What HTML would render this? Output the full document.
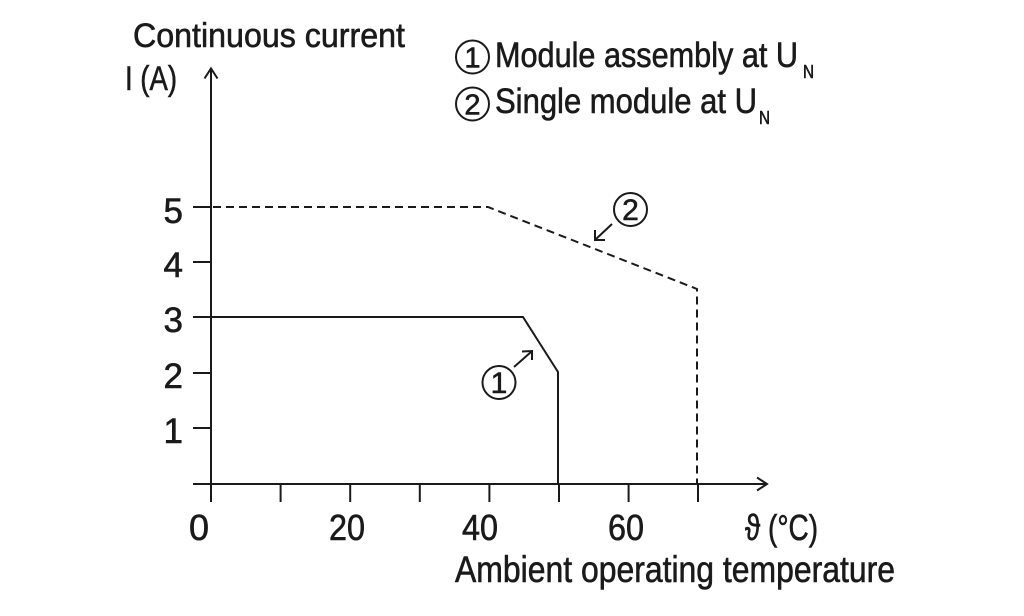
<!DOCTYPE html>
<html>
<head>
<meta charset="utf-8">
<style>
  html, body { margin:0; padding:0; background:#ffffff; }
  body { width:1024px; height:616px; overflow:hidden; }
  svg { display:block; }
  text { font-family: "Liberation Sans", "DejaVu Sans", sans-serif; fill:#1a1a1a; stroke:#1a1a1a; stroke-width:0.6; }
</style>
</head>
<body>
<svg width="1024" height="616" viewBox="0 0 1024 616" xmlns="http://www.w3.org/2000/svg">
  <rect width="1024" height="616" fill="#ffffff"/>

  <!-- Axis titles -->
  <text x="133" y="47" font-size="34" textLength="272" lengthAdjust="spacingAndGlyphs">Continuous current</text>
  <text x="125" y="90" font-size="34" textLength="52" lengthAdjust="spacingAndGlyphs">I (A)</text>

  <!-- Legend -->
  <circle cx="472.5" cy="57" r="16.5" fill="none" stroke="#1a1a1a" stroke-width="2"/>
  <text x="472.5" y="67.5" font-size="29" text-anchor="middle">1</text>
  <text x="495" y="67" font-size="35" textLength="303" lengthAdjust="spacingAndGlyphs">Module assembly at U</text>
  <text x="803" y="78" font-size="18" textLength="11" lengthAdjust="spacingAndGlyphs">N</text>

  <circle cx="472.5" cy="104" r="16.5" fill="none" stroke="#1a1a1a" stroke-width="2"/>
  <text x="472.5" y="114.5" font-size="29" text-anchor="middle">2</text>
  <text x="495" y="113" font-size="35" textLength="262" lengthAdjust="spacingAndGlyphs">Single module at U</text>
  <text x="759" y="124" font-size="18" textLength="11" lengthAdjust="spacingAndGlyphs">N</text>

  <g stroke="#1a1a1a" stroke-width="2" fill="none">
    <!-- Y axis -->
    <line x1="211" y1="502" x2="211" y2="69"/>
    <polyline points="204.5,78.5 211,68.5 217.5,78.5"/>
    <!-- X axis -->
    <line x1="193" y1="484" x2="766" y2="484"/>
    <polyline points="757,477.5 767,484 757,490.5"/>
    <!-- X ticks -->
    <line x1="280.6" y1="484" x2="280.6" y2="502"/>
    <line x1="350.2" y1="484" x2="350.2" y2="502"/>
    <line x1="419.8" y1="484" x2="419.8" y2="502"/>
    <line x1="489.4" y1="484" x2="489.4" y2="502"/>
    <line x1="559" y1="484" x2="559" y2="502"/>
    <line x1="628.6" y1="484" x2="628.6" y2="502"/>
    <line x1="698" y1="484" x2="698" y2="502"/>
    <!-- Y ticks -->
    <line x1="193" y1="207" x2="211" y2="207"/>
    <line x1="193" y1="262" x2="211" y2="262"/>
    <line x1="193" y1="317" x2="211" y2="317"/>
    <line x1="193" y1="373" x2="211" y2="373"/>
    <line x1="193" y1="428" x2="211" y2="428"/>

    <!-- Curve 1 solid -->
    <polyline points="211,317 523,317 558,372 558,484"/>

    <!-- Curve 2 dashed -->
    <polyline points="213,207 488,207 697,289 697,484" stroke-dasharray="8,5"/>

    <!-- Annotation arrows -->
    <line x1="514" y1="367" x2="531" y2="352"/>
    <polyline points="522,351.5 532,351 532,360"/>
    <line x1="612" y1="224" x2="596" y2="239"/>
    <polyline points="595,230 595,240 605,240"/>

    <!-- Annotation circles -->
    <circle cx="499" cy="382.5" r="16.5"/>
    <circle cx="630.5" cy="209.5" r="16.5"/>
  </g>
  <text x="499" y="393" font-size="30" text-anchor="middle">1</text>
  <text x="630.5" y="220" font-size="30" text-anchor="middle">2</text>

  <!-- Y tick labels -->
  <g font-size="35" text-anchor="end">
    <text x="183" y="223">5</text>
    <text x="183" y="277">4</text>
    <text x="183" y="332">3</text>
    <text x="183" y="388">2</text>
    <text x="183" y="443">1</text>
  </g>

  <!-- X tick labels -->
  <g font-size="36" text-anchor="middle">
    <text x="199" y="540">0</text>
    <text x="347" y="540" textLength="36" lengthAdjust="spacingAndGlyphs">20</text>
    <text x="480" y="540" textLength="36" lengthAdjust="spacingAndGlyphs">40</text>
    <text x="626" y="540" textLength="36" lengthAdjust="spacingAndGlyphs">60</text>
  </g>
  <text x="745" y="540" font-size="36" textLength="73" lengthAdjust="spacingAndGlyphs">ϑ (°C)</text>
  <text x="455" y="582" font-size="37" textLength="440" lengthAdjust="spacingAndGlyphs">Ambient operating temperature</text>
</svg>
</body>
</html>
